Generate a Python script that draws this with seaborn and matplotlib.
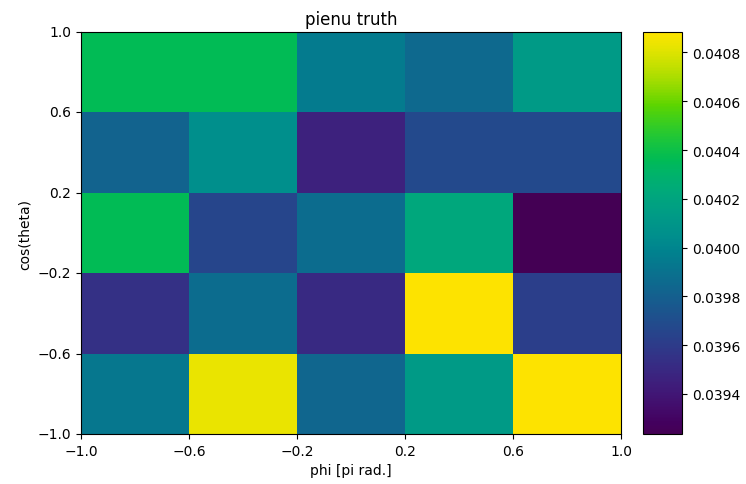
import numpy as np
import pandas as pd
import matplotlib
matplotlib.use("Agg")
import matplotlib.pyplot as plt
import seaborn as sns
from matplotlib.colors import ListedColormap, rgb_to_hsv, hsv_to_rgb
from matplotlib.ticker import FormatStrFormatter

# bin edges (phi in units of pi, cos(theta))
phi_edges = [-1.0, -0.6, -0.2, 0.2, 0.6, 1.0]
cos_edges = [-1.0, -0.6, -0.2, 0.2, 0.6, 1.0]

# bin contents, rows ordered from cos(theta) = 1.0 (top) down to -1.0
row_0p6_1p0 = [0.04036, 0.04036, 0.03995, 0.03985, 0.04013]
row_0p2_0p6 = [0.03982, 0.04005, 0.03946, 0.03968, 0.03968]
row_m0p2_0p2 = [0.04036, 0.03966, 0.03987, 0.04022, 0.03924]
row_m0p6_m0p2 = [0.03954, 0.03987, 0.03950, 0.04088, 0.03962]
row_m1p0_m0p6 = [0.03993, 0.04083, 0.03984, 0.04013, 0.04088]

vmin, vmax = 0.039236, 0.040884

values = pd.DataFrame([row_0p6_1p0, row_0p2_0p6, row_m0p2_0p2,
                       row_m0p6_m0p2, row_m1p0_m0p6])

# viridis with saturation lifted progressively towards the green/yellow end
t = np.linspace(0, 1, 256)
base = plt.get_cmap("viridis")(t)[:, :3]
hsv = rgb_to_hsv(base)
hsv[:, 1] = np.clip(hsv[:, 1] * (1.12 + 0.5 * t), 0, 1)
vivid = ListedColormap(hsv_to_rgb(hsv))

fig = plt.figure(figsize=(7.46, 4.85), dpi=100)
ax = fig.add_axes([81 / 746, 1 - 435 / 485, 540 / 746, 402 / 485])
cax = fig.add_axes([643 / 746, 1 - 435 / 485, 39 / 746, 402 / 485])

sns.heatmap(values, ax=ax, cbar_ax=cax, cmap=vivid, vmin=vmin, vmax=vmax,
            square=False)


def fmt(v):
    return f"{v:.1f}".replace("-", "\u2212")


ax.set_xticks(range(len(phi_edges)))
ax.set_xticklabels([fmt(v) for v in phi_edges], rotation=0)
ax.set_yticks(range(len(cos_edges)))
ax.set_yticklabels([fmt(v) for v in cos_edges[::-1]], rotation=0)
ax.tick_params(axis="both", length=3.5, width=0.8, labelsize=10, color="black")
for s in ax.spines.values():
    s.set_visible(True)
    s.set_color("black")
    s.set_linewidth(0.8)

ax.set_xlabel("phi [pi rad.]", fontsize=10)
ax.set_ylabel("cos(theta)", fontsize=10)
ax.set_title("pienu truth", fontsize=12)

cbar = ax.collections[0].colorbar
cbar.outline.set_linewidth(0.8)
cbar.outline.set_edgecolor("black")
cbar.set_ticks([0.0394, 0.0396, 0.0398, 0.0400, 0.0402, 0.0404, 0.0406, 0.0408])
cbar.ax.yaxis.set_major_formatter(FormatStrFormatter("%.4f"))
cbar.ax.tick_params(labelsize=10, length=3.5, width=0.8)

fig.savefig("out.png", dpi=100)
